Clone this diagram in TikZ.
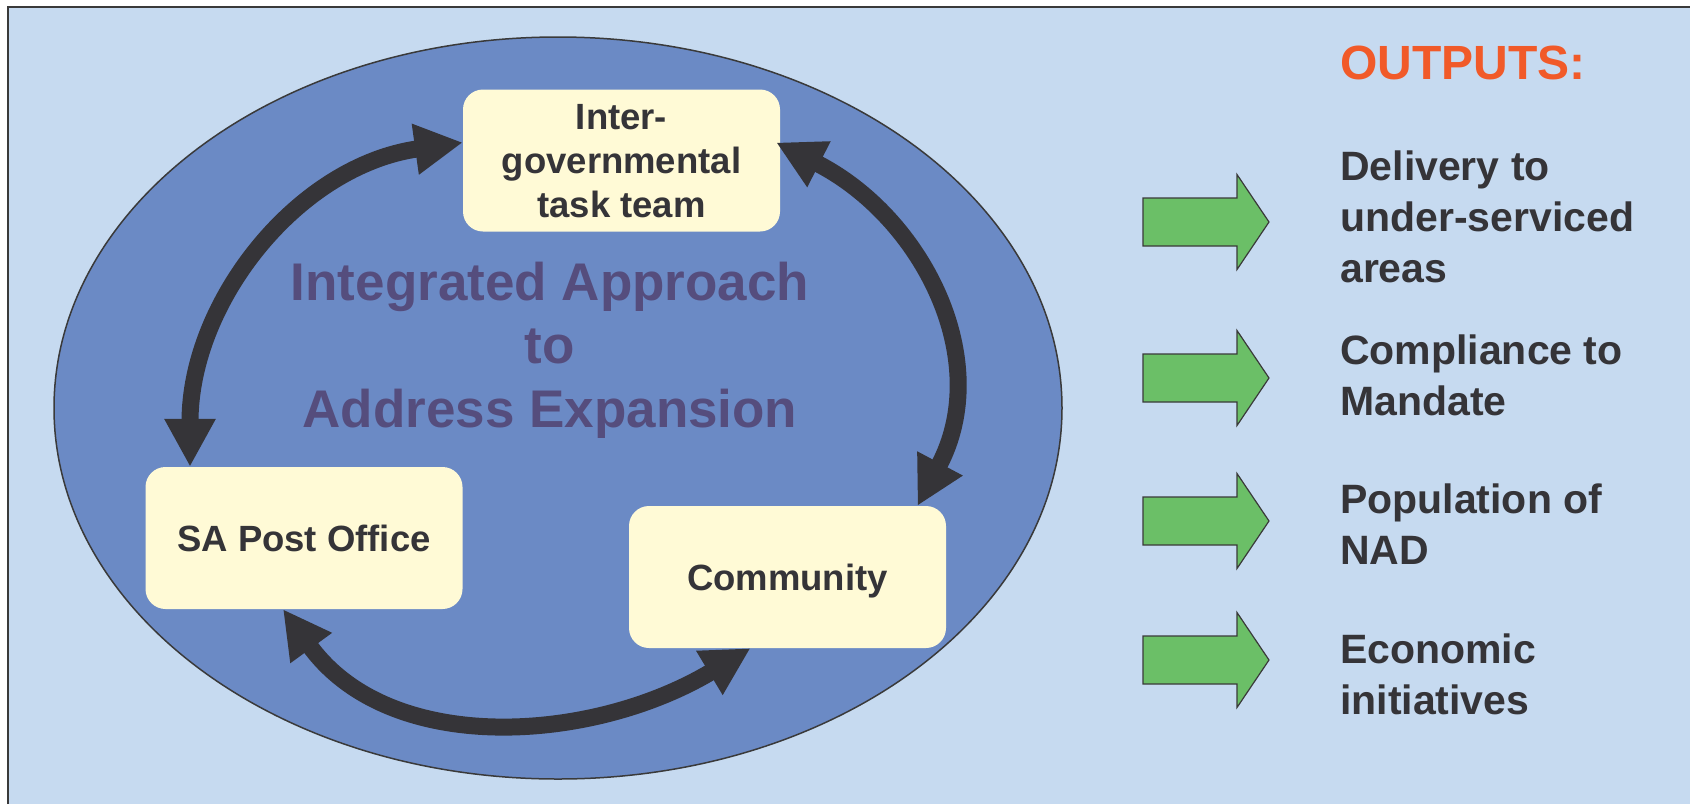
\documentclass[tikz,border=0pt]{standalone}
\usepackage{fontspec}
\setmainfont{Liberation Sans}
\usetikzlibrary{arrows.meta}
\definecolor{framebg}{HTML}{C6DAF0}
\definecolor{ovalfill}{HTML}{6B8AC5}
\definecolor{boxfill}{HTML}{FFFAD6}
\definecolor{loopgray}{HTML}{353438}
\definecolor{titlepurple}{HTML}{554D7D}
\definecolor{outorange}{HTML}{F15A29}
\definecolor{outgreen}{HTML}{6BBF67}
\definecolor{linegray}{HTML}{3A3A3A}

\begin{document}
\begin{tikzpicture}[x=1pt, y=-1pt,
  partner/.style={fill=boxfill, rounded corners=20pt, minimum width=317pt, minimum height=142pt,
    align=center, text=loopgray, font=\bfseries\fontsize{36.5}{44}\selectfont, text depth=0pt, inner sep=0pt},
  cyclearrow/.style={draw=loopgray, line width=17pt, {Triangle[length=48pt,width=48pt]}-{Triangle[length=48pt,width=48pt]}},
  outtext/.style={anchor=west, align=left, text=loopgray, font=\bfseries\fontsize{41}{51}\selectfont, inner sep=0pt}]

\useasboundingbox (0,0) rectangle (1690,804);
\fill[white] (0,0) rectangle (1690,804);
\fill[framebg] (8,7) rectangle (1690,804);
\draw[linegray, line width=2pt] (8,804) -- (8,7) -- (1690,7);

% the big oval
\draw[linegray, line width=1.5pt, fill=ovalfill] (558,408) ellipse [x radius=504, y radius=371];

\node[text=titlepurple, align=center, font=\bfseries\fontsize{53}{63.5}\selectfont] (title) at (550,350)
  {Integrated Approach\\to\\Address Expansion};

\node[partner] (team) at (621.5,160.5) {Inter-\\governmental\\task team};
\node[partner] (post) at (304,538) {SA Post Office};
\node[partner] (comm) at (787.5,577) {Community};

\draw[cyclearrow] ([yshift=18pt]team.west) to[out=188, in=90] ([xshift=-114pt]post.north);
\draw[cyclearrow] ([xshift=-4pt, yshift=18pt]team.east) to[out=-27, in=62, looseness=1.08] ([xshift=130pt]comm.north);
\draw[cyclearrow] ([xshift=-21pt]post.south) to[out=-54, in=211] ([xshift=-37pt]comm.south);

% outputs
\node[text=outorange, font=\bfseries\fontsize{48}{58}\selectfont, anchor=west, inner sep=0pt] (outhead) at (1340,62.5) {OUTPUTS:};
\foreach \yc/\ty/\txt [count=\i] in {222/217/{Delivery to\\under-serviced\\areas},
    378/375.5/{Compliance to\\Mandate}, 521/524/{Population of\\NAD}, 660/674.5/{Economic\\initiatives}} {
  \draw[linegray, line width=1.2pt, fill=outgreen] (1143,\yc-24) -- (1237,\yc-24) -- (1237,\yc-47.5)
    -- (1269,\yc) -- (1237,\yc+47.5) -- (1237,\yc+24) -- (1143,\yc+24) -- cycle;
  \node[outtext] (item\i) at (1340,\ty) {\txt};
}

\end{tikzpicture}
\end{document}
